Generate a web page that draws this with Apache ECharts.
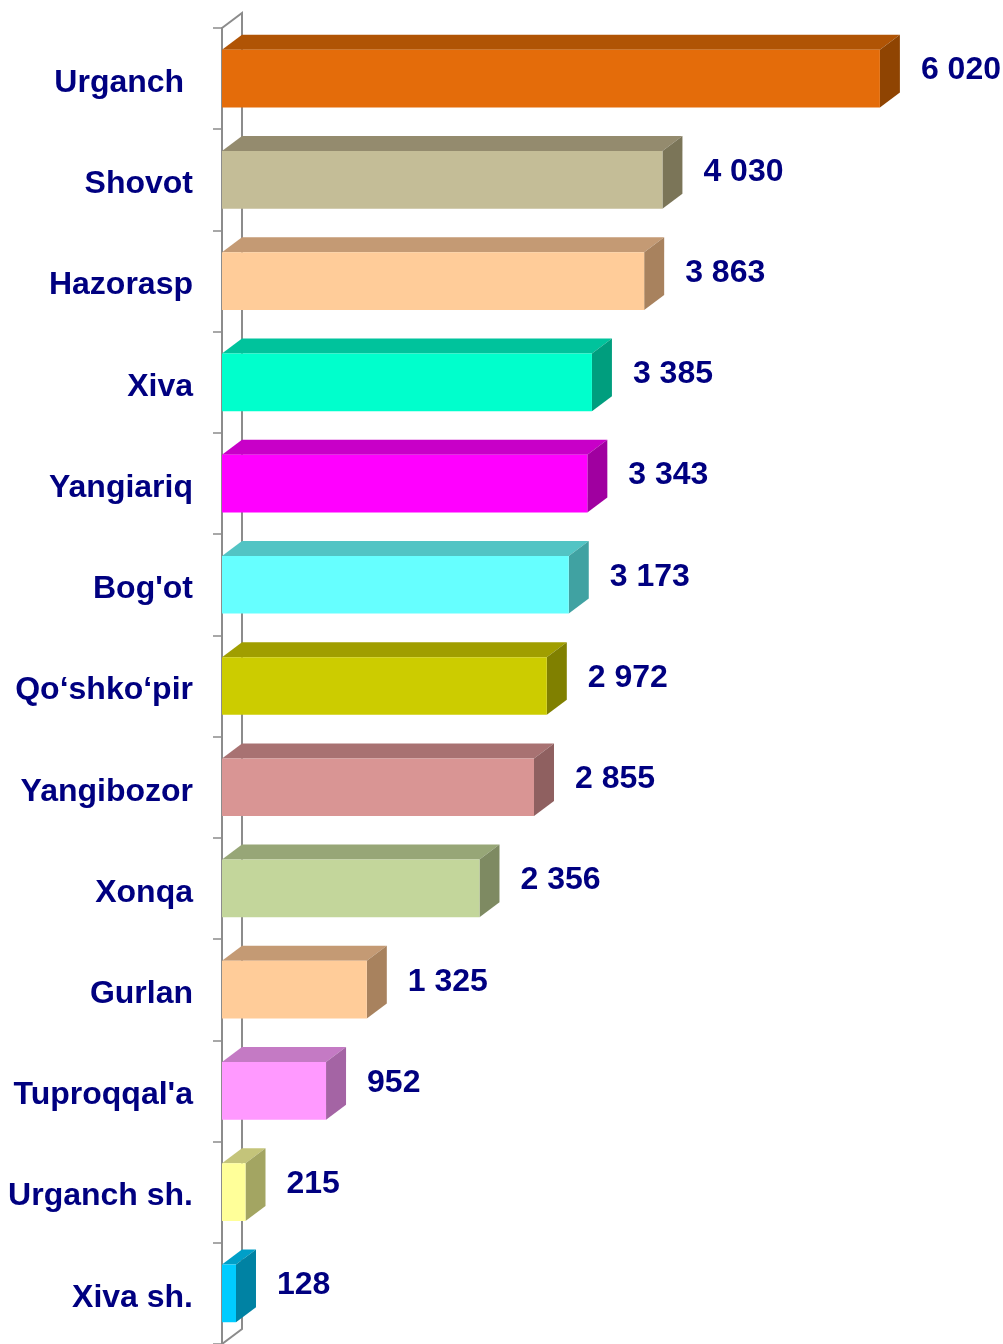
<!DOCTYPE html>
<html>
<head>
<meta charset="utf-8">
<title>Tumanlar</title>
<script src="https://cdn.jsdelivr.net/npm/echarts@6/dist/echarts.min.js"></script>
<style>
  html, body { margin: 0; padding: 0; background: #fff; }
  #chart { width: 1003px; height: 1344px; }
</style>
</head>
<body>
<div id="chart"></div>
<script>
// categories (top to bottom) and values
const districts = ["Urganch ", "Shovot", "Hazorasp", "Xiva", "Yangiariq", "Bog'ot", "Qo\u2018shko\u2018pir",
  "Yangibozor", "Xonqa", "Gurlan", "Tuproqqal'a", "Urganch sh.", "Xiva sh."];
const values = [6020, 4030, 3863, 3385, 3343, 3173, 2972, 2855, 2356, 1325, 952, 215, 128];

// bar colours: front face, top face, right side
const frontColors = ["#e46c0a", "#c4bd97", "#ffcc99", "#00ffcc", "#ff00ff", "#66ffff", "#cccc00",
  "#d99594", "#c3d69b", "#ffcc99", "#ff99ff", "#ffff99", "#00ccff"];
const topColors = ["#b05405", "#948b6e", "#c49a74", "#00c39c", "#c800c8", "#52c4c4", "#a09e00",
  "#a87272", "#97a677", "#c49a74", "#c47ac4", "#c4c47a", "#009fc8"];
const sideColors = ["#8f4402", "#7b7558", "#a8825e", "#009e7e", "#a000a0", "#40a2a2", "#808000",
  "#8f6060", "#7e8a62", "#a8825e", "#a464a4", "#a3a562", "#0082a3"];

const DX = 20, DY = 15;
const navy = "#000080";
const font = "'Liberation Sans', Arial, sans-serif";

const fmt = v => String(v).replace(/\B(?=(\d{3})+(?!\d))/g, " ");

const chart = echarts.init(document.getElementById("chart"));

const option = {
  animation: false,
  backgroundColor: "#fff",
  grid: { left: 222, top: 28, width: 765, height: 1321 },
  xAxis: {
    type: "value",
    min: 0,
    max: 7000,
    show: false
  },
  yAxis: {
    type: "category",
    data: districts,
    inverse: true,
    axisLine: { show: true, lineStyle: { color: "#8c8c8c", width: 2 } },
    axisTick: { show: true, length: 9, lineStyle: { color: "#8c8c8c", width: 1.5 } },
    axisLabel: {
      margin: 29,
      color: navy,
      fontFamily: font,
      fontWeight: "bold",
      fontSize: 32,
      // nudge the names a few pixels below the band centre
      verticalAlign: "top",
      lineHeight: 9
    },
    splitLine: { show: false }
  },
  series: [
    {
      // back wall of the 3D frame
      type: "custom",
      z: 1,
      silent: true,
      data: [[0]],
      renderItem: (params) => {
        const cs = params.coordSys;
        return {
          type: "polyline",
          shape: {
            points: [
              [cs.x, cs.y],
              [cs.x + DX, cs.y - DY],
              [cs.x + DX, cs.y + cs.height - DY],
              [cs.x, cs.y + cs.height]
            ]
          },
          style: { stroke: "#8c8c8c", lineWidth: 2, fill: null }
        };
      }
    },
    {
      type: "custom",
      z: 3,
      data: values.map((v, i) => [v, i]),
      encode: { x: 0, y: 1 },
      renderItem: (params, api) => {
        const i = api.value(1);
        const v = api.value(0);
        const end = api.coord([v, i]);
        const start = api.coord([0, i]);
        const h = api.size([0, 1])[1] * 0.57;
        const x0 = start[0], x1 = end[0];
        const yt = end[1] - h / 2, yb = end[1] + h / 2;
        return {
          type: "group",
          children: [
            {
              type: "polygon",
              shape: { points: [[x0, yt], [x0 + DX, yt - DY], [x1 + DX, yt - DY], [x1, yt]] },
              style: { fill: topColors[i] }
            },
            {
              type: "polygon",
              shape: { points: [[x1, yt], [x1 + DX, yt - DY], [x1 + DX, yb - DY], [x1, yb]] },
              style: { fill: sideColors[i] }
            },
            {
              type: "rect",
              shape: { x: x0, y: yt, width: x1 - x0, height: yb - yt },
              style: { fill: frontColors[i] }
            },
            {
              type: "text",
              x: x1 + DX + 21,
              y: end[1] - 8,
              style: {
                text: fmt(v),
                fill: navy,
                font: "bold 32px " + font,
                verticalAlign: "middle",
                align: "left"
              }
            }
          ]
        };
      }
    }
  ]
};

chart.setOption(option);
window.addEventListener("resize", () => chart.resize());
</script>
</body>
</html>
